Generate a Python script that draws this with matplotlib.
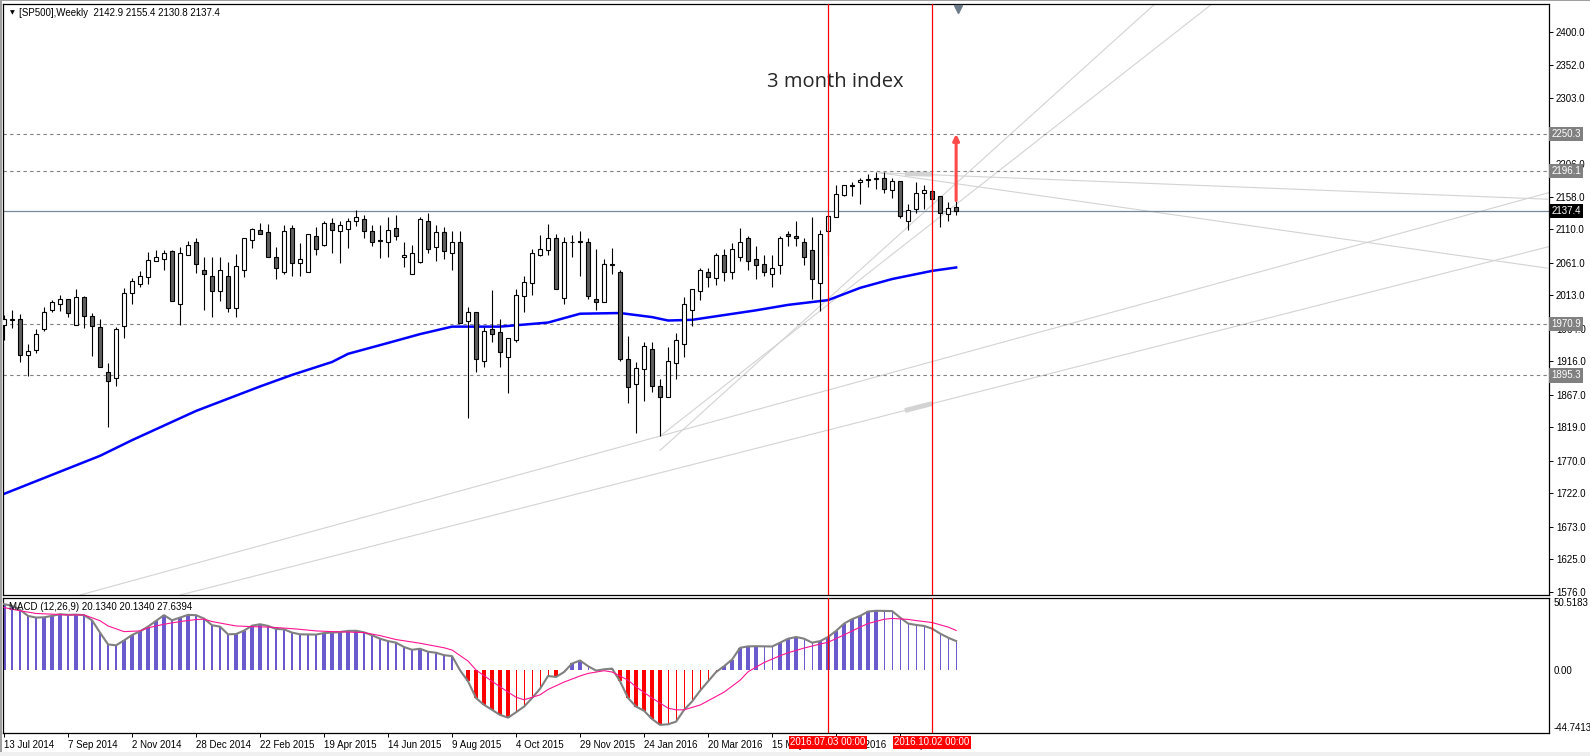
import matplotlib.pyplot as plt
import matplotlib.transforms as mtransforms
from matplotlib.patches import Rectangle
import numpy as np

plt.rcParams['font.family'] = ['Liberation Sans', 'DejaVu Sans']

# weekly candles, week 0 = 13 Jul 2014
opens = [1969, 1977, 1978, 1925, 1932, 1963, 1991, 2000, 2008, 1970,
         2011, 1983, 1967, 1900, 1891, 1968, 2016, 2029, 2040, 2064,
         2066, 2078, 2000, 2072, 2092, 2051, 2042, 2019, 2041, 1995,
         2051, 2095, 2109, 2106, 2069, 2048, 2112, 2061, 2048, 2101,
         2087, 2119, 2107, 2110, 2123, 2126, 2107, 2093, 2092, 2112,
         2070, 2044, 2062, 2123, 2084, 2106, 2076, 2092, 1975, 1988,
         1917, 1963, 1959, 1922, 1948, 2012, 2031, 2072, 2079, 2097,
         2009, 2092, 2092, 2091, 2007, 2003, 2058, 2047, 1919, 1882,
         1904, 1934, 1879, 1863, 1914, 1942, 1992, 2019, 2047, 2038,
         2072, 2048, 2070, 2097, 2066, 2059, 2045, 2057, 2103, 2100,
         2092, 2079, 2031, 2107, 2128, 2160, 2174, 2179, 2183, 2185,
         2185, 2168, 2181, 2123, 2140, 2164, 2166, 2159, 2132, 2142.9]
highs = [1984, 1992, 1985, 1942, 1964, 1996, 2006, 2013, 2008, 2022,
         2012, 1987, 1978, 1914, 1967, 2024, 2038, 2049, 2077, 2079,
         2080, 2080, 2084, 2093, 2097, 2069, 2069, 2069, 2062, 2074,
         2097, 2112, 2119, 2118, 2084, 2117, 2116, 2090, 2103, 2113,
         2122, 2127, 2122, 2127, 2138, 2131, 2116, 2116, 2128, 2131,
         2091, 2087, 2128, 2134, 2116, 2114, 2108, 2108, 1996, 1988,
         1967, 2021, 1978, 1950, 2022, 2041, 2081, 2102, 2118, 2103,
         2099, 2102, 2108, 2098, 2081, 2067, 2082, 2051, 1953, 1915,
         1945, 1945, 1890, 1937, 1957, 2010, 2023, 2053, 2053, 2076,
         2081, 2090, 2112, 2100, 2085, 2072, 2072, 2101, 2107, 2122,
         2098, 2128, 2109, 2133, 2175, 2176, 2180, 2185, 2191, 2194,
         2194, 2185, 2181, 2147, 2179, 2175, 2168, 2159, 2150, 2155.4]
lows = [1948, 1965, 1915, 1895, 1928, 1960, 1989, 1990, 1981, 1970,
        1965, 1924, 1907, 1820, 1879, 1951, 2001, 2026, 2029, 2064,
        2051, 2004, 1970, 2072, 2046, 1992, 1981, 2004, 1988, 1981,
        2040, 2082, 2103, 2069, 2037, 2045, 2042, 2042, 2047, 2072,
        2085, 2076, 2061, 2083, 2115, 2098, 2085, 2068, 2070, 2095,
        2055, 2044, 2061, 2076, 2063, 2066, 2051, 1972, 1832, 1900,
        1908, 1945, 1907, 1870, 1945, 1989, 2014, 2071, 2072, 2022,
        2000, 2070, 2041, 2007, 1992, 2003, 2044, 1917, 1855, 1810,
        1857, 1871, 1806, 1863, 1890, 1923, 1968, 2006, 2026, 2028,
        2034, 2037, 2064, 2051, 2037, 2042, 2025, 2044, 2085, 2085,
        2057, 2007, 1990, 2073, 2128, 2159, 2159, 2148, 2172, 2169,
        2163, 2156, 2127, 2109, 2134, 2140, 2140, 2114, 2123, 2130.8]
closes = [1978, 1978, 1925, 1931, 1956, 1988, 2003, 2008, 1987, 2010,
          1983, 1968, 1907, 1887, 1964, 2017, 2034, 2041, 2065, 2070,
          2076, 2004, 2075, 2087, 2059, 2045, 2019, 2051, 1995, 2056,
          2097, 2110, 2103, 2070, 2053, 2107, 2061, 2067, 2103, 2081,
          2119, 2109, 2116, 2123, 2128, 2107, 2092, 2094, 2109, 2101,
          2073, 2076, 2126, 2081, 2106, 2078, 2091, 1972, 1988, 1919,
          1960, 1956, 1930, 1950, 2014, 2032, 2076, 2081, 2098, 2022,
          2091, 2091, 2093, 2012, 2003, 2059, 2059, 1920, 1878, 1906,
          1938, 1879, 1864, 1917, 1948, 2000, 2022, 2050, 2040, 2073,
          2048, 2081, 2092, 2064, 2057, 2047, 2053, 2098, 2100, 2097,
          2070, 2037, 2103, 2129, 2162, 2175, 2175, 2182, 2184, 2184,
          2169, 2181, 2129, 2138, 2164, 2168, 2154, 2134, 2141, 2137.4]

# moving average
ma_weeks = [0, 6, 12, 16, 24, 32, 36, 41, 43, 48, 52, 56, 62, 68, 72, 77,
            81, 83, 86, 90, 94, 98, 103, 107, 111, 116, 119]
ma_values = [1721, 1749, 1777, 1800, 1843, 1879, 1896, 1915, 1927, 1943,
             1956, 1967, 1967, 1973, 1986, 1987, 1981, 1976, 1977, 1984,
             1991, 1999, 2006, 2024, 2037, 2049, 2054]

# MACD histogram / main line
macd_hist = [46.2, 45.0, 42.2, 37.9, 36.7, 36.9, 37.9, 39.1, 38.6, 38.8,
             38.4, 34.8, 26.1, 17.8, 17.1, 20.6, 24.4, 27.0, 30.3, 34.4,
             38.4, 34.8, 36.7, 38.6, 38.4, 36.0, 31.3, 30.3, 24.9, 25.1,
             27.5, 31.0, 32.0, 30.8, 28.7, 28.4, 26.1, 24.9, 24.8, 24.7,
             25.8, 26.1, 26.5, 27.3, 27.4, 26.3, 24.2, 21.8, 20.1, 19.0,
             15.9, 14.0, 14.7, 12.6, 11.9, 10.2, 9.5, -0.5, -8.3, -20.1,
             -24.9, -28.4, -32.0, -33.9, -30.1, -26.1, -20.1, -13.5, -4.5, -5.2,
             -1.7, 4.3, 6.4, 2.4, -0.7, 0.2, 0.7, -8.3, -20.1, -26.1,
             -29.1, -34.9, -39.0, -38.6, -36.7, -28.4, -22.5, -14.9, -8.3, -1.7,
             2.4, 7.1, 15.4, 16.4, 16.5, 16.4, 16.3, 19.0, 21.8, 23.0,
             21.8, 19.0, 20.1, 23.0, 27.3, 32.5, 35.6, 37.9, 41.0, 41.5,
             41.4, 41.3, 36.7, 32.5, 31.5, 30.8, 28.9, 25.4, 22.5, 20.134]
signal_weeks = [0, 2, 4, 6, 8, 10, 12, 13, 15, 17, 18, 20, 22, 24, 25, 26, 28,
                29, 31, 33, 35, 37, 39, 41, 43, 45, 47, 49, 52, 53, 55, 56, 58,
                59, 61, 63, 64, 65, 67, 68, 70, 72, 73, 75, 76, 78, 79, 81, 83,
                84, 85, 87, 88, 90, 92, 93, 95, 97, 98, 100, 102, 103, 105, 107,
                108, 110, 111, 113, 114, 116, 118, 119]
signal_values = [43.8, 41.5, 39.6, 39.1, 38.6, 38.6, 34.5, 30.8, 26.8, 27.3,
                 29.5, 32.0, 33.9, 35.3, 35.6, 33.9, 31.8, 30.8, 30.3, 30.0,
                 29.3, 28.4, 27.3, 26.8, 26.5, 26.1, 24.0, 21.2, 18.6, 17.5,
                 15.4, 13.8, 6.0, -0.3, -8.3, -15.9, -19.5, -21.3, -17.8, -14.0,
                 -8.8, -4.5, -2.7, -0.8, -1.7, -7.5, -12.2, -20.1, -27.2, -28.4,
                 -28.4, -25.0, -22.0, -15.9, -7.5, -1.5, 5.0, 9.8, 11.9, 15.2,
                 18.0, 19.3, 24.5, 30.0, 32.5, 35.5, 36.1, 35.4, 34.6, 33.2,
                 30.0, 27.6394]

date_labels = ['13 Jul 2014', '7 Sep 2014', '2 Nov 2014', '28 Dec 2014',
               '22 Feb 2015', '19 Apr 2015', '14 Jun 2015', '9 Aug 2015',
               '4 Oct 2015', '29 Nov 2015', '24 Jan 2016', '20 Mar 2016',
               '15 May 2016', '10 Jul 2016', '4 Sep 2016']
price_ticks = [2400.0, 2352.0, 2303.0, 2206.0, 2158.0, 2110.0, 2061.0,
               2013.0, 1964.0, 1916.0, 1867.0, 1819.0, 1770.0, 1722.0, 1673.0,
               1625.0, 1576.0]
levels = [2250.3, 2196.1, 1970.9, 1895.3]
last_price = 2137.4
target = 2250.3
marker_weeks = [103, 116]
marker_labels = ['2016.07.03 00:00', '2016.10.02 00:00']

# trendlines as (week, price) pairs
fan_lines = [((82, 1806), (150.7, 2439)), ((82, 1785), (143.6, 2439))]
channel_lines = [((82, 1806), (192.9, 2163.5)), ((96.9, 1796.6), (192.9, 2084.1))]
top_lines = [((109.4, 2193.4), (192.9, 2053.0)), ((109.4, 2193.4), (192.9, 2154.4))]
highlight_segments = [((112.6, 116), (1843.6, 1853.8)), ((112.6, 116), (2192.0, 2191.2))]

W, H = 1590, 756
fig = plt.figure(figsize=(W / 100, H / 100), dpi=100)
ax = fig.add_axes([3 / W, 1 - 595 / H, 1546 / W, 591 / H])
ax2 = fig.add_axes([3 / W, 1 - 733 / H, 1546 / W, 135 / H])

idx = np.arange(len(opens))
o, h, l, c = map(np.array, (opens, highs, lows, closes))

# trendlines
for p1, p2 in channel_lines:
    ax.axline(p1, p2, color='#d3d3d3', lw=0.8, zorder=1)
for p1, p2 in top_lines:
    ax.plot([p1[0], p2[0]], [p1[1], p2[1]], color='#d3d3d3', lw=0.8, zorder=1)
for p1, p2 in fan_lines:
    ax.plot([p1[0], p2[0] + 10], [p1[1], p2[1] + (p2[1] - p1[1]) * 10 / (p2[0] - p1[0])],
            color='#d3d3d3', lw=0.8, zorder=1)
for xs, ys in highlight_segments:
    ax.plot(xs, ys, color='#d3d3d3', lw=3.5, solid_capstyle='butt', zorder=1)

for lv in levels:
    ax.axhline(lv, color='#808080', lw=0.8, ls=(0, (3, 3)), zorder=1)
ax.axhline(last_price, color='#778899', lw=0.9, zorder=1)

ax.plot(ma_weeks, ma_values, color='#0000ff', lw=1.8, zorder=2)

# candles
up = c >= o
ax.vlines(idx, l, h, color='black', lw=0.8, zorder=3)
body_h = np.maximum(np.abs(c - o), 0.8)
ax.bar(idx, body_h, bottom=np.minimum(o, c), width=0.5,
       color=np.where(up, 'white', '#5f5f5f'), edgecolor='black', linewidth=0.8, zorder=4)

for wk in marker_weeks:
    ax.axvline(wk, color='red', lw=0.9, zorder=5)
    ax2.axvline(wk, color='red', lw=0.9, zorder=5)

ax.annotate('', xy=(idx[-1], target), xytext=(idx[-1], h[-1] - 3),
            arrowprops=dict(arrowstyle='-|>', color='#ff4a4a', lw=2.2, mutation_scale=9,
                            shrinkA=0, shrinkB=0), zorder=6)

ax.text(0.5385, 0.868, '3 month index', transform=ax.transAxes, ha='center', va='center',
        fontsize=14.5, color='#262626', family=['Open Sans', 'DejaVu Sans'])
ax.plot([0.6175], [0.992], transform=ax.transAxes, marker='v', color='#6c7a89',
        markersize=5.5, clip_on=False, zorder=6)

ax.set_xlim(-0.125, 193.1)
ax.set_ylim(1572.3, 2441.5)
ax.yaxis.tick_right()
ax.set_yticks(price_ticks)
ax.set_yticklabels([f'{v:.1f}' for v in price_ticks])
ax.tick_params(axis='y', direction='out', length=3, width=0.7, pad=2, labelsize=7)
ax.tick_params(axis='x', length=0, labelbottom=False)

ytrans = mtransforms.blended_transform_factory(ax.transAxes, ax.transData)
for lv in levels:
    ax.text(1.0015, lv, f'{lv:.1f}', transform=ytrans, ha='left', va='center', fontsize=7,
            color='white', bbox=dict(boxstyle='square,pad=0.22', fc='#808080', ec='none'),
            clip_on=False, zorder=10)
ax.text(1.0015, last_price, f'{last_price:.1f}', transform=ytrans, ha='left', va='center',
        fontsize=7, color='white', bbox=dict(boxstyle='square,pad=0.22', fc='black', ec='none'),
        clip_on=False, zorder=10)

# MACD panel
hist = np.array(macd_hist)
grow = np.concatenate([[True], np.abs(hist[1:]) > np.abs(hist[:-1])])
ax2.bar(idx, hist, width=np.where(grow, 0.42, 0.14),
        color=np.where(hist >= 0, '#6a5acd', 'red'), linewidth=0, zorder=2)
ax2.plot(idx, hist, color='#808080', lw=1.5, zorder=3)
ax2.plot(signal_weeks, signal_values, color='#ff1493', lw=0.8, zorder=3)

ax2.set_xlim(-0.125, 193.1)
ax2.set_ylim(-44.7413, 50.5183)
ax2.yaxis.tick_right()
ax2.set_yticks([50.5183, 0, -44.7413])
ax2.set_yticklabels(['50.5183', '0.00', '-44.7413'])
ax2.tick_params(axis='y', length=0, pad=3, labelsize=7)
ylabels = ax2.get_yticklabels()
ylabels[0].set_va('top')
ylabels[2].set_va('bottom')

ax2.set_xticks(np.arange(len(date_labels)) * 8)
ax2.set_xticklabels(date_labels)
ax2.tick_params(axis='x', direction='out', length=3, width=0.7, pad=2, labelsize=7)
for lbl in ax2.get_xticklabels():
    lbl.set_ha('left')

xtrans = mtransforms.blended_transform_factory(ax2.transData, ax2.transAxes)
for wk, lab in zip(marker_weeks, marker_labels):
    ax2.text(wk, -0.07, lab, transform=xtrans, ha='center', va='center', fontsize=7,
             color='white', bbox=dict(boxstyle='square,pad=0.18', fc='red', ec='none'),
             clip_on=False, zorder=10)

ax2.text(0.004, 0.93, 'MACD (12,26,9) 20.1340 20.1340 27.6394', transform=ax2.transAxes,
         ha='left', va='center', fontsize=7, zorder=6)

for a in (ax, ax2):
    for s in a.spines.values():
        s.set_linewidth(0.9)

fig.text(12 / W, 1 - 12.5 / H, '\u25bc', fontsize=4.5, ha='center', va='center',
         family=['DejaVu Sans'])
fig.text(19 / W, 1 - 12.5 / H, '[SP500],Weekly  2142.9 2155.4 2130.8 2137.4',
         fontsize=7, ha='left', va='center')

fig.add_artist(Rectangle((0, 0), 2 / W, 1, transform=fig.transFigure, color='#a0a0a0', lw=0))
fig.add_artist(Rectangle((0, 1 - 1 / H), 1, 1 / H, transform=fig.transFigure, color='#a0a0a0', lw=0))
fig.add_artist(Rectangle((0, 0), 1, 4 / H, transform=fig.transFigure, color='#f0f0f0', lw=0))

fig.savefig('out.png', dpi=100)
